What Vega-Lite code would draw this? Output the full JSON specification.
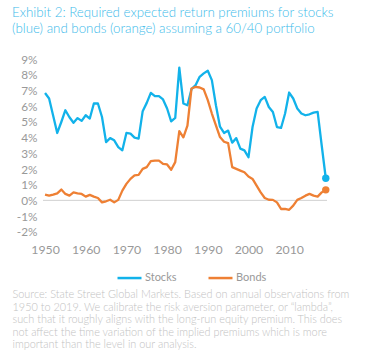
{
  "$schema": "https://vega.github.io/schema/vega-lite/v6.json",
  "width": 284,
  "height": 172.4,
  "autosize": {"type": "none"},
  "padding": {"left": 43, "top": 59.3, "right": 44, "bottom": 124.3},
  "background": "white",
  "config": {
    "view": {"stroke": null},
    "font": "Lato",
    "axis": {"labelFont": "Lato", "labelColor": "#999999", "labelFontSize": 11.8, "domain": false, "ticks": false, "grid": false, "labelOverlap": false, "labelBound": false},
    "axisY": {"labelOverlap": false, "labelSeparation": 0},
    "axisQuantitative": {"labelOverlap": false}
  },
  "title": {
    "text": ["Exhibit 2: Required expected return premiums for stocks", "(blue) and bonds (orange) assuming a 60/40 portfolio"],
    "anchor": "start",
    "frame": "group",
    "dx": -31,
    "offset": 19,
    "font": "Lato",
    "fontSize": 13.3,
    "fontWeight": 300,
    "color": "#3DBBEA",
    "lineHeight": 15.6
  },
  "data": {
    "values": [
      {"year": 1950, "Stocks": 6.85, "Bonds": 0.37},
      {"year": 1951, "Stocks": 6.5, "Bonds": 0.3},
      {"year": 1952, "Stocks": 5.4, "Bonds": 0.37},
      {"year": 1953, "Stocks": 4.3, "Bonds": 0.45},
      {"year": 1954, "Stocks": 5.0, "Bonds": 0.69},
      {"year": 1955, "Stocks": 5.75, "Bonds": 0.41},
      {"year": 1956, "Stocks": 5.3, "Bonds": 0.3},
      {"year": 1957, "Stocks": 4.95, "Bonds": 0.51},
      {"year": 1958, "Stocks": 5.25, "Bonds": 0.45},
      {"year": 1959, "Stocks": 5.07, "Bonds": 0.41},
      {"year": 1960, "Stocks": 5.43, "Bonds": 0.24},
      {"year": 1961, "Stocks": 5.22, "Bonds": 0.35},
      {"year": 1962, "Stocks": 6.18, "Bonds": 0.24},
      {"year": 1963, "Stocks": 6.18, "Bonds": 0.15},
      {"year": 1964, "Stocks": 5.32, "Bonds": -0.13},
      {"year": 1965, "Stocks": 3.72, "Bonds": -0.06},
      {"year": 1966, "Stocks": 3.97, "Bonds": 0.04},
      {"year": 1967, "Stocks": 3.83, "Bonds": -0.13},
      {"year": 1968, "Stocks": 3.4, "Bonds": 0.03},
      {"year": 1969, "Stocks": 3.19, "Bonds": 0.62},
      {"year": 1970, "Stocks": 4.3, "Bonds": 1.05},
      {"year": 1971, "Stocks": 4.26, "Bonds": 1.37},
      {"year": 1972, "Stocks": 4.0, "Bonds": 1.6},
      {"year": 1973, "Stocks": 3.94, "Bonds": 1.62},
      {"year": 1974, "Stocks": 5.69, "Bonds": 2.01},
      {"year": 1975, "Stocks": 6.22, "Bonds": 2.12},
      {"year": 1976, "Stocks": 6.86, "Bonds": 2.5},
      {"year": 1977, "Stocks": 6.65, "Bonds": 2.54},
      {"year": 1978, "Stocks": 6.65, "Bonds": 2.54},
      {"year": 1979, "Stocks": 6.44, "Bonds": 2.33},
      {"year": 1980, "Stocks": 5.86, "Bonds": 2.29},
      {"year": 1981, "Stocks": 5.04, "Bonds": 1.95},
      {"year": 1982, "Stocks": 5.26, "Bonds": 2.44},
      {"year": 1983, "Stocks": 8.47, "Bonds": 4.42},
      {"year": 1984, "Stocks": 6.18, "Bonds": 4.02},
      {"year": 1985, "Stocks": 6.07, "Bonds": 4.77},
      {"year": 1986, "Stocks": 7.1, "Bonds": 7.14},
      {"year": 1987, "Stocks": 7.35, "Bonds": 7.24},
      {"year": 1988, "Stocks": 7.88, "Bonds": 7.2},
      {"year": 1989, "Stocks": 8.1, "Bonds": 7.08},
      {"year": 1990, "Stocks": 8.27, "Bonds": 6.39},
      {"year": 1991, "Stocks": 7.67, "Bonds": 5.54},
      {"year": 1992, "Stocks": 6.07, "Bonds": 4.79},
      {"year": 1993, "Stocks": 4.7, "Bonds": 4.04},
      {"year": 1994, "Stocks": 4.3, "Bonds": 3.74},
      {"year": 1995, "Stocks": 4.45, "Bonds": 3.65},
      {"year": 1996, "Stocks": 3.68, "Bonds": 2.12},
      {"year": 1997, "Stocks": 3.97, "Bonds": 2.01},
      {"year": 1998, "Stocks": 3.3, "Bonds": 1.9},
      {"year": 1999, "Stocks": 3.19, "Bonds": 1.79},
      {"year": 2000, "Stocks": 2.75, "Bonds": 1.52},
      {"year": 2001, "Stocks": 4.68, "Bonds": 1.37},
      {"year": 2002, "Stocks": 5.86, "Bonds": 0.94},
      {"year": 2003, "Stocks": 6.39, "Bonds": 0.51},
      {"year": 2004, "Stocks": 6.6, "Bonds": 0.15},
      {"year": 2005, "Stocks": 5.96, "Bonds": 0.04},
      {"year": 2006, "Stocks": 5.64, "Bonds": 0.03},
      {"year": 2007, "Stocks": 4.68, "Bonds": -0.13},
      {"year": 2008, "Stocks": 4.62, "Bonds": -0.55},
      {"year": 2009, "Stocks": 5.54, "Bonds": -0.55},
      {"year": 2010, "Stocks": 6.88, "Bonds": -0.6},
      {"year": 2011, "Stocks": 6.5, "Bonds": -0.34},
      {"year": 2012, "Stocks": 5.86, "Bonds": 0.03},
      {"year": 2013, "Stocks": 5.54, "Bonds": 0.15},
      {"year": 2014, "Stocks": 5.43, "Bonds": 0.3},
      {"year": 2015, "Stocks": 5.49, "Bonds": 0.41},
      {"year": 2016, "Stocks": 5.6, "Bonds": 0.3},
      {"year": 2017, "Stocks": 5.64, "Bonds": 0.24},
      {"year": 2018, "Stocks": 3.5, "Bonds": 0.51},
      {"year": 2019, "Stocks": 1.41, "Bonds": 0.67}
    ]
  },
  "transform": [{"fold": ["Stocks", "Bonds"], "as": ["series", "value"]}],
  "encoding": {
    "x": {
      "field": "year", "type": "quantitative",
      "scale": {"domain": [1949.5, 2019.3], "nice": false, "zero": false},
      "axis": {"values": [1950, 1960, 1970, 1980, 1990, 2000, 2010], "format": "d", "labelPadding": 12, "labelOverlap": false, "labelFontSize": 12.3,
        "title": ["Source: State Street Global Markets. Based on annual observations from", "1950 to 2019.  We calibrate the risk aversion parameter, or \u201clambda\u201d,", "such that it roughly aligns with the long-run equity premium. This does", "not affect the time variation of the implied premiums which is more", "important than the level in our analysis."],
        "titleFont": "Lato", "titleFontSize": 10.9, "titleFontWeight": 300, "titleColor": "#c2c2c2",
        "titleAnchor": "start", "titleAlign": "left", "titleBaseline": "top", "titleX": -31, "titleY": 57, "titleLineHeight": 12.5}
    },
    "y": {
      "field": "value", "type": "quantitative",
      "scale": {"domain": [-2, 9], "nice": false},
      "axis": {"values": [-2, -1, 0, 1, 2, 3, 4, 5, 6, 7, 8, 9], "labelExpr": "datum.value + '%'", "labelPadding": 6, "labelOverlap": false, "title": null}
    },
    "color": {
      "field": "series", "type": "nominal",
      "scale": {"domain": ["Stocks", "Bonds"], "range": ["#12B2EA", "#EE8034"]},
      "legend": {"title": null, "orient": "none", "direction": "horizontal", "legendX": 73, "legendY": 205,
        "symbolType": "stroke", "symbolSize": 576, "symbolStrokeWidth": 2.5, "labelFont": "Lato", "labelFontSize": 11, "labelColor": "#999999", "labelOffset": 2, "columnPadding": 26}
    }
  },
  "layer": [
    {
      "transform": [{"filter": "datum.year == 1950 && datum.series == 'Stocks'"}],
      "mark": {"type": "rule", "color": "#d0d0d0", "strokeWidth": 1},
      "encoding": {"y": {"datum": 0, "type": "quantitative"}, "x": null, "color": null}
    },
    {
      "mark": {"type": "line", "strokeWidth": 2.3, "strokeJoin": "round"}
    },
    {
      "transform": [{"filter": "datum.year == 2019"}],
      "mark": {"type": "point", "filled": true, "size": 55, "opacity": 1}
    }
  ]
}
